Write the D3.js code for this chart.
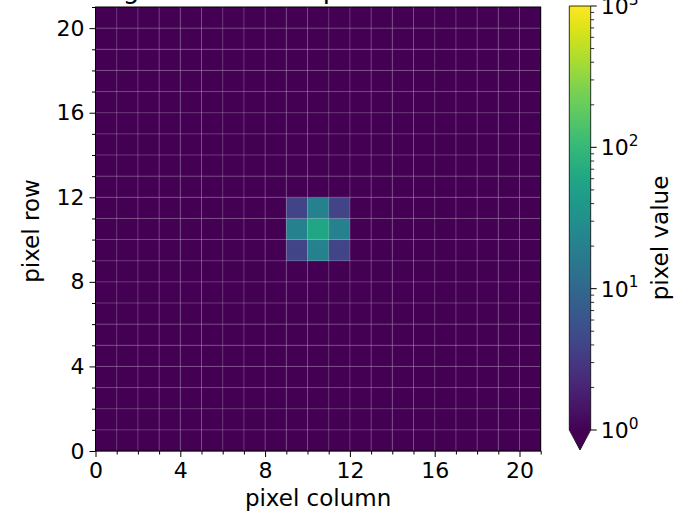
<!DOCTYPE html>
<html>
<head>
<meta charset="utf-8">
<script src="https://cdn.jsdelivr.net/npm/d3@7"></script>
<style>
  body { margin: 0; background: #fff; }
  svg { display: block; }
  text { font-family: "DejaVu Sans", sans-serif; fill: #000; }
</style>
</head>
<body>
<svg id="chart" width="689" height="516"></svg>
<script>
// image size (pixels)
const nCols = 21;
const nRows = 21;
const backgroundValue = 1;

// the point source: a 3x3 block of pixels
const sourceCols = [9, 10, 11];
const sourceRows = [9, 10, 11];
// rows listed bottom -> top, columns left -> right
const sourceValues = [
  [4, 20, 4],
  [20, 60, 20],
  [4, 20, 4],
];

const axisTicks = [0, 4, 8, 12, 16, 20];
const cbMajorTicks = [1, 10, 100, 1000];
const cbExponents = ["0", "1", "2", "3"];

const titleText = "Log-scaled mock point source flux";
const xLabel = "pixel column";
const yLabel = "pixel row";
const cbLabel = "pixel value";

// build the full pixel grid
const cells = [];
for (let r = 0; r < nRows; r++) {
  for (let c = 0; c < nCols; c++) {
    let v = backgroundValue;
    const ri = sourceRows.indexOf(r);
    const ci = sourceCols.indexOf(c);
    if (ri >= 0 && ci >= 0) v = sourceValues[ri][ci];
    cells.push({ row: r, col: c, value: v });
  }
}

const svg = d3.select("#chart");
const TICK_FONT = 22;
const LABEL_FONT = 23;

const plot = { left: 95.5, right: 540.7, top: 7, bottom: 451 };

const x = d3.scaleLinear().domain([0, nCols]).range([plot.left, plot.right]);
const y = d3.scaleLinear().domain([0, nRows]).range([plot.bottom, plot.top]);

const color = d3
  .scaleSequentialLog(d3.interpolateViridis)
  .domain([1, 1000])
  .clamp(true);

// title (mostly above the visible figure, as in the original)
svg
  .append("text")
  .attr("x", (plot.left + plot.right) / 2)
  .attr("y", -2)
  .attr("text-anchor", "middle")
  .style("font-size", LABEL_FONT * 1.15 + "px")
  .text(titleText);

// pixels
svg
  .append("g")
  .selectAll("rect")
  .data(cells)
  .join("rect")
  .attr("x", (d) => x(d.col))
  .attr("y", (d) => y(d.row + 1))
  .attr("width", (d) => x(d.col + 1) - x(d.col) + 0.3)
  .attr("height", (d) => y(d.row) - y(d.row + 1) + 0.3)
  .attr("fill", (d) => color(d.value));

// grid at every pixel edge
const gridGroup = svg.append("g");
gridGroup
  .selectAll("line.gx")
  .data(d3.range(1, nCols))
  .join("line")
  .attr("class", "gx")
  .attr("x1", (d) => x(d))
  .attr("x2", (d) => x(d))
  .attr("y1", plot.top)
  .attr("y2", plot.bottom)
  .attr("stroke", "#fff")
  .attr("stroke-opacity", 0.22)
  .attr("stroke-width", 1);
gridGroup
  .selectAll("line.gy")
  .data(d3.range(1, nRows))
  .join("line")
  .attr("class", "gy")
  .attr("y1", (d) => y(d))
  .attr("y2", (d) => y(d))
  .attr("x1", plot.left)
  .attr("x2", plot.right)
  .attr("stroke", "#fff")
  .attr("stroke-opacity", 0.22)
  .attr("stroke-width", 1);

// frame
svg
  .append("rect")
  .attr("x", plot.left)
  .attr("y", plot.top)
  .attr("width", plot.right - plot.left)
  .attr("height", plot.bottom - plot.top)
  .attr("fill", "none")
  .attr("stroke", "#000")
  .attr("stroke-width", 1);

// axes
const minorTicks = d3.range(0, nCols + 1).filter((d) => !axisTicks.includes(d));

svg
  .append("g")
  .attr("transform", `translate(0,${plot.bottom})`)
  .call(d3.axisBottom(x).tickValues(axisTicks).tickSize(6).tickPadding(5));
svg
  .append("g")
  .attr("transform", `translate(0,${plot.bottom})`)
  .call(d3.axisBottom(x).tickValues(minorTicks).tickSize(3.5).tickFormat(""));

svg
  .append("g")
  .attr("transform", `translate(${plot.left},0)`)
  .call(d3.axisLeft(y).tickValues(axisTicks).tickSize(6).tickPadding(5));
svg
  .append("g")
  .attr("transform", `translate(${plot.left},0)`)
  .call(d3.axisLeft(y).tickValues(minorTicks).tickSize(3.5).tickFormat(""));

svg.selectAll(".domain").remove();
svg.selectAll(".tick line").attr("stroke", "#000").attr("stroke-width", 1);
svg
  .selectAll(".tick text")
  .style("font-size", TICK_FONT + "px")
  .style("font-family", '"DejaVu Sans", sans-serif')
  .attr("fill", "#000");

// axis labels
svg
  .append("text")
  .attr("x", (plot.left + plot.right) / 2)
  .attr("y", 506)
  .attr("text-anchor", "middle")
  .style("font-size", LABEL_FONT + "px")
  .text(xLabel);

svg
  .append("text")
  .attr("transform", `translate(39,${(plot.top + plot.bottom) / 2 + 2}) rotate(-90)`)
  .attr("text-anchor", "middle")
  .style("font-size", LABEL_FONT + "px")
  .text(yLabel);

// colorbar
const cb = { left: 569.3, right: 590.7, top: 6, bottom: 430, tip: 450 };
const cbScale = d3.scaleLog().domain([1, 1000]).range([cb.bottom, cb.top]);

const defs = svg.append("defs");
const grad = defs
  .append("linearGradient")
  .attr("id", "viridis")
  .attr("x1", 0)
  .attr("y1", 1)
  .attr("x2", 0)
  .attr("y2", 0);
grad
  .selectAll("stop")
  .data(d3.range(0, 1.0001, 0.05))
  .join("stop")
  .attr("offset", (d) => d)
  .attr("stop-color", (d) => d3.interpolateViridis(d));

svg
  .append("rect")
  .attr("x", cb.left)
  .attr("y", cb.top)
  .attr("width", cb.right - cb.left)
  .attr("height", cb.bottom - cb.top)
  .attr("fill", "url(#viridis)");

// extend arrow for values under the minimum
const cx = (cb.left + cb.right) / 2;
svg
  .append("path")
  .attr("d", `M${cb.left},${cb.bottom - 0.5}L${cb.right},${cb.bottom - 0.5}L${cx},${cb.tip}Z`)
  .attr("fill", d3.interpolateViridis(0));

svg
  .append("path")
  .attr(
    "d",
    `M${cb.left},${cb.top}L${cb.right},${cb.top}L${cb.right},${cb.bottom}L${cx},${cb.tip}L${cb.left},${cb.bottom}Z`
  )
  .attr("fill", "none")
  .attr("stroke", "#000")
  .attr("stroke-width", 0.8);

// colorbar ticks
const cbMinor = cbScale.ticks().filter((d) => !cbMajorTicks.includes(d));
svg
  .append("g")
  .selectAll("line")
  .data(cbMinor)
  .join("line")
  .attr("x1", cb.right)
  .attr("x2", cb.right + 3.5)
  .attr("y1", (d) => cbScale(d))
  .attr("y2", (d) => cbScale(d))
  .attr("stroke", "#000")
  .attr("stroke-width", 0.8);
svg
  .append("g")
  .selectAll("line")
  .data(cbMajorTicks)
  .join("line")
  .attr("x1", cb.right)
  .attr("x2", cb.right + 6)
  .attr("y1", (d) => cbScale(d))
  .attr("y2", (d) => cbScale(d))
  .attr("stroke", "#000")
  .attr("stroke-width", 1);

const cbLabels = svg
  .append("g")
  .selectAll("text")
  .data(cbMajorTicks)
  .join("text")
  .attr("x", cb.right + 10)
  .attr("y", (d) => cbScale(d) + 8)
  .style("font-size", TICK_FONT + "px");
cbLabels.append("tspan").text("10");
cbLabels
  .append("tspan")
  .attr("dy", "-0.6em")
  .style("font-size", TICK_FONT * 0.7 + "px")
  .text((d, i) => cbExponents[i]);

svg
  .append("text")
  .attr("transform", `translate(668,238) rotate(-90)`)
  .attr("text-anchor", "middle")
  .style("font-size", LABEL_FONT + "px")
  .text(cbLabel);
</script>
</body>
</html>
